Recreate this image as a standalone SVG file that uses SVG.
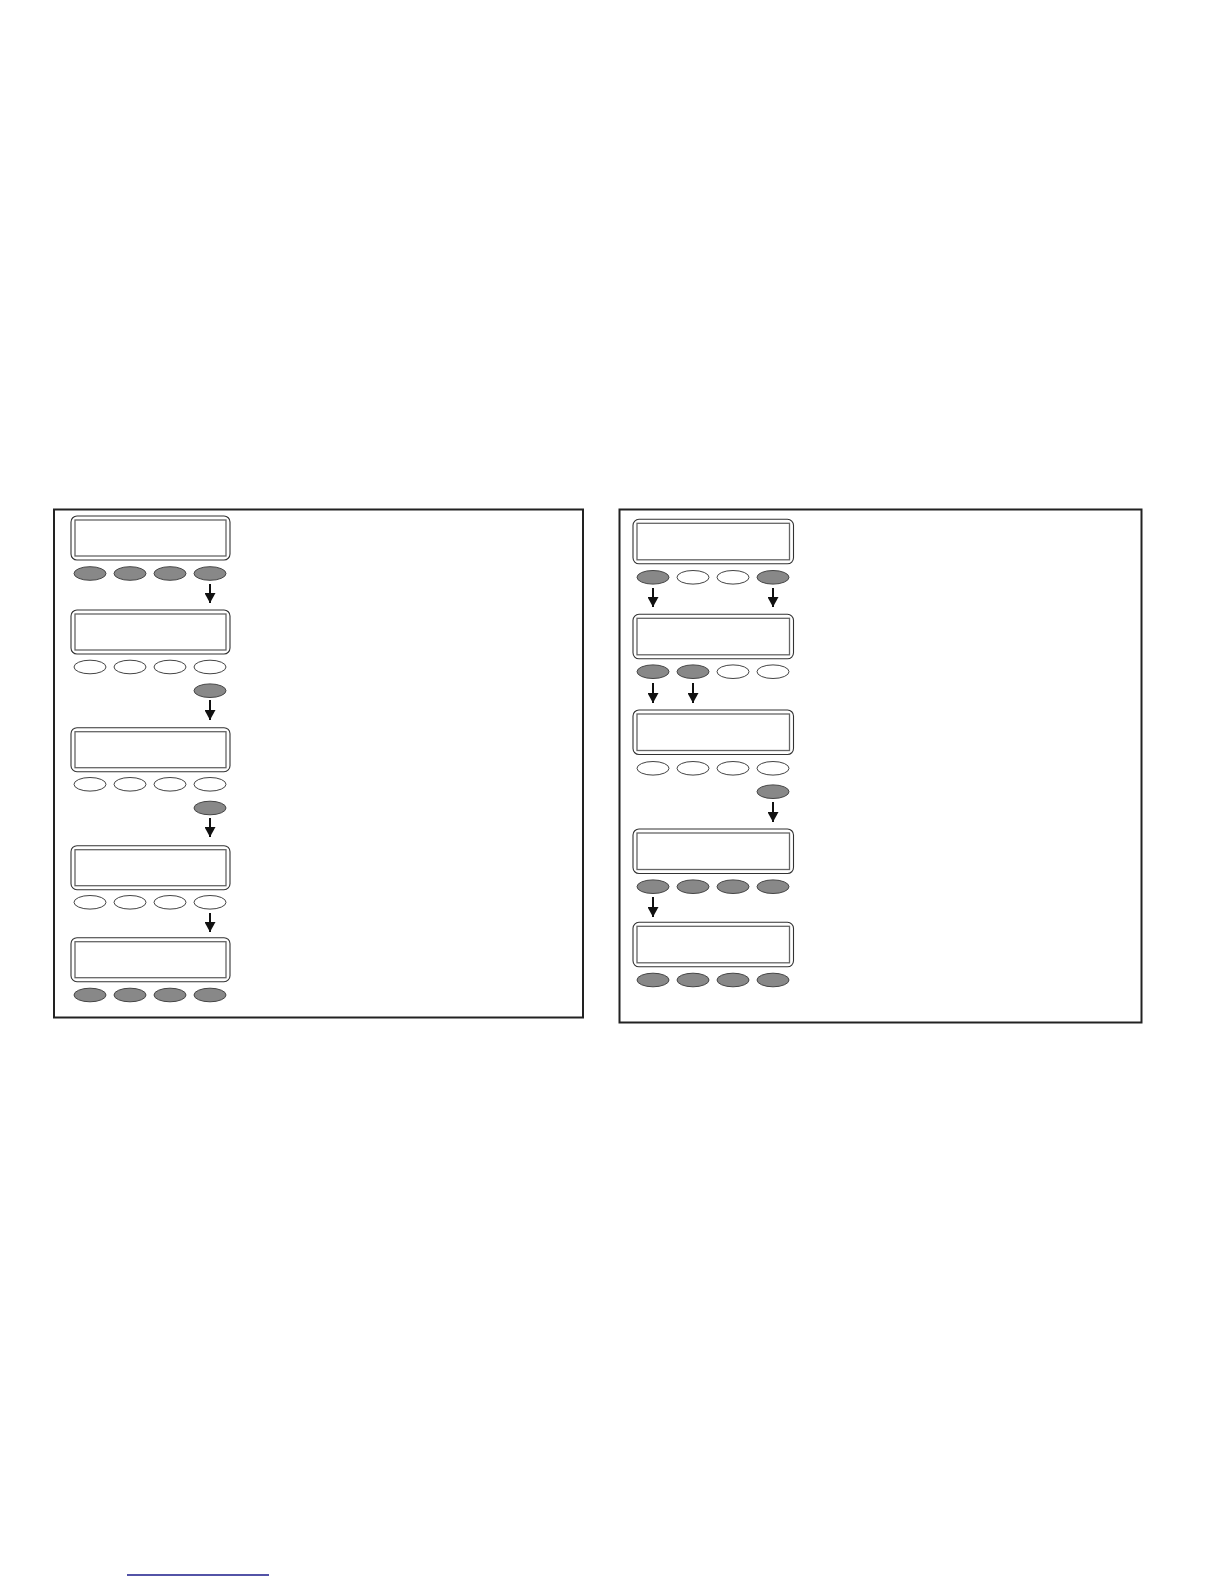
<svg xmlns="http://www.w3.org/2000/svg" width="1224" height="1584" viewBox="0 0 1224 1584">
<style>
.frame{fill:none;stroke:#222;stroke-width:2}
.dout{fill:#fff;stroke:#333;stroke-width:1.1}
.din{fill:#fff;stroke:#666;stroke-width:1.3}
.bon{fill:#888;stroke:#444;stroke-width:1}
.boff{fill:#fff;stroke:#444;stroke-width:1}
.arr{stroke:#111;stroke-width:2;fill:none}
</style>
<defs>
<marker id="ah" viewBox="0 0 10 11" refX="10" refY="5.5" markerWidth="10" markerHeight="11" markerUnits="userSpaceOnUse" orient="auto">
<path d="M0,0 L10,5.5 L0,11 z" fill="#111"/>
</marker>
</defs>
<rect width="1224" height="1584" fill="#fff"/>
<rect class="frame" x="54" y="509.5" width="529" height="508"/>
<rect class="frame" x="619.5" y="509.5" width="522" height="513"/>

<!-- Left panel -->
<g id="L1">
<rect class="dout" x="71" y="516" width="159" height="44" rx="6"/>
<rect class="din" x="75" y="520" width="151" height="36"/>
<ellipse class="bon" cx="90" cy="573.5" rx="16" ry="6.8"/>
<ellipse class="bon" cx="130" cy="573.5" rx="16" ry="6.8"/>
<ellipse class="bon" cx="170" cy="573.5" rx="16" ry="6.8"/>
<ellipse class="bon" cx="210" cy="573.5" rx="16" ry="6.8"/>
</g>
<g id="L2">
<rect class="dout" x="71" y="610" width="159" height="44" rx="6"/>
<rect class="din" x="75" y="614" width="151" height="36"/>
<ellipse class="boff" cx="90" cy="667" rx="16" ry="6.8"/>
<ellipse class="boff" cx="130" cy="667" rx="16" ry="6.8"/>
<ellipse class="boff" cx="170" cy="667" rx="16" ry="6.8"/>
<ellipse class="boff" cx="210" cy="667" rx="16" ry="6.8"/>
<ellipse class="bon" cx="210" cy="690.7" rx="16" ry="6.8"/>
</g>
<g id="L3">
<rect class="dout" x="71" y="727.7" width="159" height="44" rx="6"/>
<rect class="din" x="75" y="731.7" width="151" height="36"/>
<ellipse class="boff" cx="90" cy="784.3" rx="16" ry="6.8"/>
<ellipse class="boff" cx="130" cy="784.3" rx="16" ry="6.8"/>
<ellipse class="boff" cx="170" cy="784.3" rx="16" ry="6.8"/>
<ellipse class="boff" cx="210" cy="784.3" rx="16" ry="6.8"/>
<ellipse class="bon" cx="210" cy="808" rx="16" ry="6.8"/>
</g>
<g id="L4">
<rect class="dout" x="71" y="845.7" width="159" height="44" rx="6"/>
<rect class="din" x="75" y="849.7" width="151" height="36"/>
<ellipse class="boff" cx="90" cy="902.3" rx="16" ry="6.8"/>
<ellipse class="boff" cx="130" cy="902.3" rx="16" ry="6.8"/>
<ellipse class="boff" cx="170" cy="902.3" rx="16" ry="6.8"/>
<ellipse class="boff" cx="210" cy="902.3" rx="16" ry="6.8"/>
</g>
<g id="L5">
<rect class="dout" x="71" y="937.7" width="159" height="44" rx="6"/>
<rect class="din" x="75" y="941.7" width="151" height="36"/>
<ellipse class="bon" cx="90" cy="995" rx="16" ry="6.8"/>
<ellipse class="bon" cx="130" cy="995" rx="16" ry="6.8"/>
<ellipse class="bon" cx="170" cy="995" rx="16" ry="6.8"/>
<ellipse class="bon" cx="210" cy="995" rx="16" ry="6.8"/>
</g>

<!-- Right panel -->
<g id="R1">
<rect class="dout" x="633" y="519.3" width="160.5" height="44.5" rx="6"/>
<rect class="din" x="637" y="523.3" width="152.5" height="36.5"/>
<ellipse class="bon" cx="653" cy="577.3" rx="16" ry="6.8"/>
<ellipse class="boff" cx="693" cy="577.3" rx="16" ry="6.8"/>
<ellipse class="boff" cx="733" cy="577.3" rx="16" ry="6.8"/>
<ellipse class="bon" cx="773" cy="577.3" rx="16" ry="6.8"/>
</g>
<g id="R2">
<rect class="dout" x="633" y="614.3" width="160.5" height="44.5" rx="6"/>
<rect class="din" x="637" y="618.3" width="152.5" height="36.5"/>
<ellipse class="bon" cx="653" cy="671.7" rx="16" ry="6.8"/>
<ellipse class="bon" cx="693" cy="671.7" rx="16" ry="6.8"/>
<ellipse class="boff" cx="733" cy="671.7" rx="16" ry="6.8"/>
<ellipse class="boff" cx="773" cy="671.7" rx="16" ry="6.8"/>
</g>
<g id="R3">
<rect class="dout" x="633" y="710" width="160.5" height="44.5" rx="6"/>
<rect class="din" x="637" y="714" width="152.5" height="36.5"/>
<ellipse class="boff" cx="653" cy="768.3" rx="16" ry="6.8"/>
<ellipse class="boff" cx="693" cy="768.3" rx="16" ry="6.8"/>
<ellipse class="boff" cx="733" cy="768.3" rx="16" ry="6.8"/>
<ellipse class="boff" cx="773" cy="768.3" rx="16" ry="6.8"/>
<ellipse class="bon" cx="773" cy="791.7" rx="16" ry="6.8"/>
</g>
<g id="R4">
<rect class="dout" x="633" y="829" width="160.5" height="44.5" rx="6"/>
<rect class="din" x="637" y="833" width="152.5" height="36.5"/>
<ellipse class="bon" cx="653" cy="886.7" rx="16" ry="6.8"/>
<ellipse class="bon" cx="693" cy="886.7" rx="16" ry="6.8"/>
<ellipse class="bon" cx="733" cy="886.7" rx="16" ry="6.8"/>
<ellipse class="bon" cx="773" cy="886.7" rx="16" ry="6.8"/>
</g>
<g id="R5">
<rect class="dout" x="633" y="922.3" width="160.5" height="44.5" rx="6"/>
<rect class="din" x="637" y="926.3" width="152.5" height="36.5"/>
<ellipse class="bon" cx="653" cy="980" rx="16" ry="6.8"/>
<ellipse class="bon" cx="693" cy="980" rx="16" ry="6.8"/>
<ellipse class="bon" cx="733" cy="980" rx="16" ry="6.8"/>
<ellipse class="bon" cx="773" cy="980" rx="16" ry="6.8"/>
</g>

<g id="connectors">
<line class="arr" x1="210" y1="584" x2="210" y2="603" marker-end="url(#ah)"/>
<line class="arr" x1="210" y1="700" x2="210" y2="720" marker-end="url(#ah)"/>
<line class="arr" x1="210" y1="818" x2="210" y2="837" marker-end="url(#ah)"/>
<line class="arr" x1="210" y1="913" x2="210" y2="932" marker-end="url(#ah)"/>
<line class="arr" x1="653" y1="588" x2="653" y2="607" marker-end="url(#ah)"/>
<line class="arr" x1="773" y1="588" x2="773" y2="607" marker-end="url(#ah)"/>
<line class="arr" x1="653" y1="683" x2="653" y2="703" marker-end="url(#ah)"/>
<line class="arr" x1="693" y1="683" x2="693" y2="703" marker-end="url(#ah)"/>
<line class="arr" x1="773" y1="802" x2="773" y2="822" marker-end="url(#ah)"/>
<line class="arr" x1="653" y1="897" x2="653" y2="917" marker-end="url(#ah)"/>
</g>
<line x1="127" y1="1575" x2="269" y2="1575" stroke="#1a1a8a" stroke-width="1.3"/>
</svg>
